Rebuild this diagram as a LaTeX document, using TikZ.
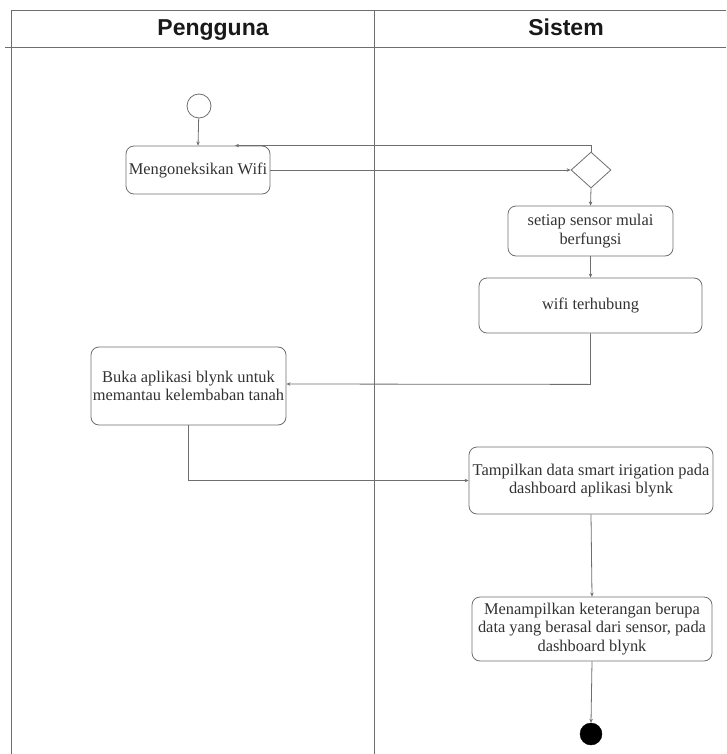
\documentclass[tikz,border=0pt]{standalone}
\usepackage{fontspec}
\setmainfont{Liberation Serif}
\newfontfamily\headfont{Liberation Sans}
\usetikzlibrary{shapes.geometric,arrows.meta,calc}
\definecolor{linegray}{RGB}{110,110,110}
\definecolor{txtgray}{RGB}{50,50,50}
\begin{document}
\begin{tikzpicture}[x=1pt,y=-1pt,
  frame/.style={draw=linegray,line width=0.9pt},
  actbox/.style={draw=linegray,line width=0.8pt,rounded corners=8pt,align=center,inner sep=0pt,text=txtgray,font=\fontsize{16.4}{18.5}\selectfont},
  conn/.style={draw=linegray,line width=0.8pt,-{Stealth[length=4pt,width=3.5pt]}},
  lanehead/.style={font=\headfont\bfseries\fontsize{23}{25}\selectfont,text=black!90}]
\useasboundingbox (0,0) rectangle (726,754);
% frame
\draw[frame] (11,754) -- (11,10) -- (726,10);
\draw[frame] (5,47) -- (726,47);
\draw[frame] (374,10) -- (374,754);
\node[lanehead] (h1) at (213,30) {Pengguna};
\node[lanehead] (h2) at (566,27) {Sistem};
% nodes
\node[circle,draw=linegray,line width=0.8pt,minimum size=24pt,inner sep=0pt] (start) at (199,106) {};
\node[actbox,minimum width=144pt,minimum height=48pt] (b1) at (198,170) {Mengoneksikan Wifi};
\node[diamond,draw=linegray,line width=0.8pt,minimum width=40pt,minimum height=36pt,inner sep=0pt] (dia) at (591,170) {};
\node[actbox,minimum width=165pt,minimum height=50pt] (b2) at (590.5,231) {setiap sensor mulai\\berfungsi};
\node[actbox,minimum width=223pt,minimum height=55pt] (b3) at (590.5,305.5) {wifi terhubung};
\node[actbox,minimum width=195pt,minimum height=78pt] (b4) at (188.5,386) {Buka aplikasi blynk untuk\\memantau kelembaban tanah};
\node[actbox,minimum width=244pt,minimum height=67pt] (b5) at (591,480.5) {Tampilkan data smart irigation pada\\dashboard aplikasi blynk};
\node[actbox,minimum width=240pt,minimum height=64pt] (b6) at (592,629) {Menampilkan keterangan berupa\\data yang berasal dari sensor, pada\\dashboard blynk};
\node[circle,fill=black,draw=black,minimum size=22pt,inner sep=0pt] (end) at (591,734) {};
\coordinate (b1in) at ($(b1.north)+(37,0)$);
% connectors
\draw[conn] (start) -- (b1.north);
\draw[conn] (b1.east) -- (dia.west);
\draw[conn] (dia.north) -- (dia.north |- b1in) -- (b1in);
\draw[conn] (dia.south) -- (b2.north);
\draw[conn] (b2.south) -- (b3.north);
\draw[conn] (b3.south) -- ++(0,51) -- ($(b4.east)+(0,-2)$);
\draw[conn] (b4.south) |- (b5.west);
\draw[conn] (b5.south) -- (b6.north);
\draw[conn] (b6.south) -- (end.north);
\end{tikzpicture}
\end{document}
